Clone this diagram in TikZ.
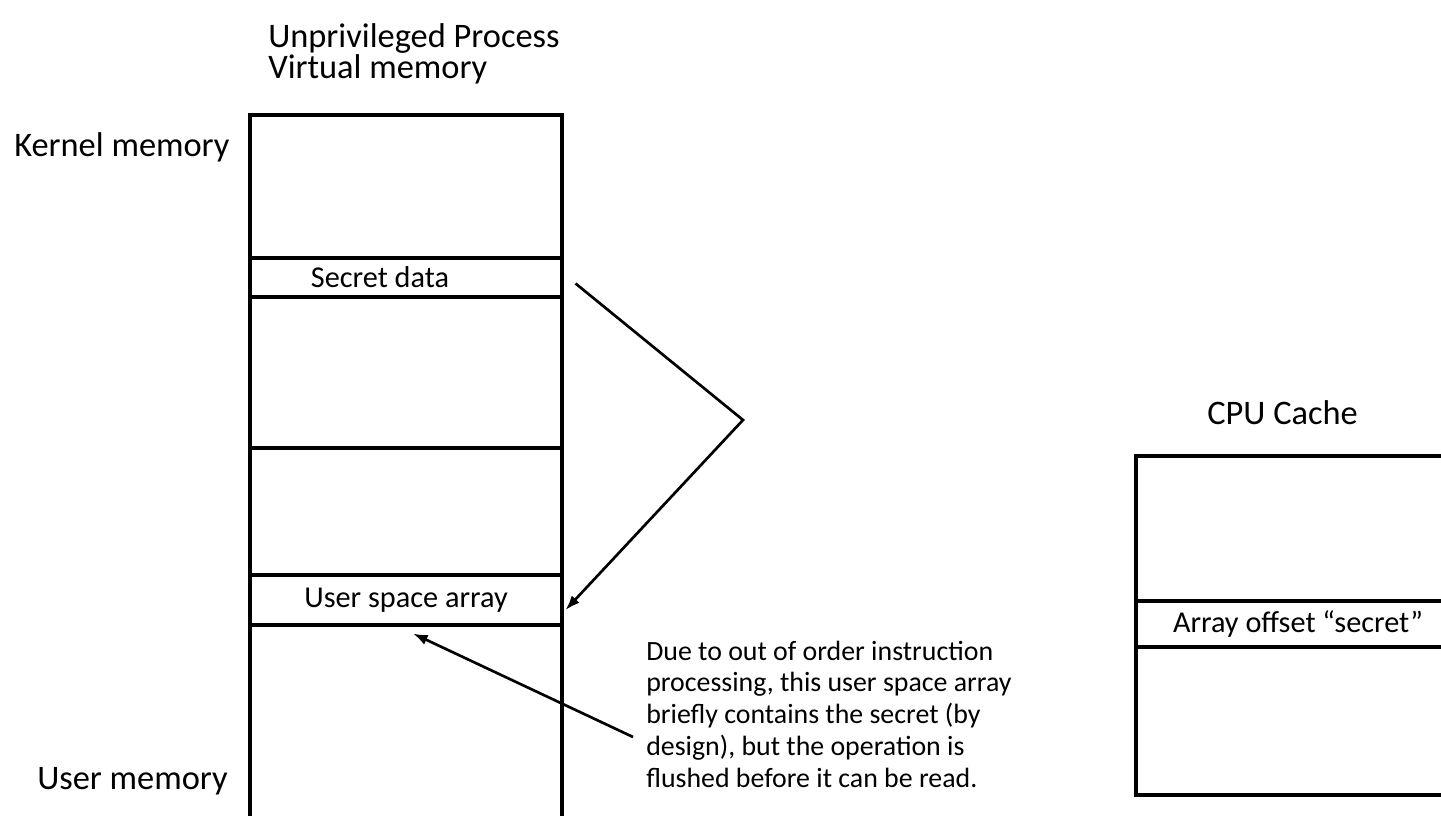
\documentclass[tikz,border=0pt]{standalone}
\usepackage{fontspec}
\setmainfont{Carlito}
\usetikzlibrary{arrows.meta,positioning}
\begin{document}
\begin{tikzpicture}[x=0.75pt,y=-0.75pt,
    region/.style={draw, line width=2.3pt, inner sep=0pt, minimum width=234pt, font=\fontsize{22.7}{26}\selectfont},
    cacheregion/.style={region, minimum width=243pt},
    sidetext/.style={inner sep=0pt, font=\fontsize{25.8}{21.6}\selectfont, align=left},
    notetext/.style={inner sep=0pt, font=\fontsize{20.9}{23.8}\selectfont, align=left},
    ptr/.style={line width=2pt, -{Latex[length=11pt,width=8pt]}}]
    \useasboundingbox (0,0) rectangle (1441,816);
    \node [region, minimum height=107.25pt] (kernel) at (406,186.5) {};
    \node [region, minimum height=29.25pt] (secret) at (406,277.5) {};
    \node [region, minimum height=113.25pt] (midA) at (406,372.5) {};
    \node [region, minimum height=95.25pt] (midB) at (406,511.5) {};
    \node [region, minimum height=37.5pt] (array) at (406,600) {User space array};
    \node [region, minimum height=153.75pt] (user) at (406,727.5) {};
    \node [inner sep=0pt, font=\fontsize{22.7}{26}\selectfont] (secretlbl) at (380,277.5) {Secret data};
    \node [sidetext, anchor=base west] (title) at (268,79) {Unprivileged Process\\Virtual memory};
    \node [sidetext, anchor=base west] (kernellbl) at (14,157) {Kernel memory};
    \node [sidetext, anchor=base west] (userlbl) at (37,789) {User memory};
    \node [cacheregion, minimum height=108.75pt] (cachetop) at (1298,528.5) {};
    \node [cacheregion, minimum height=34.5pt] (cacheline) at (1298,624) {Array offset “secret”};
    \node [cacheregion, minimum height=111pt] (cachebot) at (1298,721) {};
    \node [sidetext, anchor=base west] (cachelbl) at (1207,424) {CPU Cache};
    \node [notetext, anchor=base west] (note) at (646,787) {Due to out of order instruction\\processing, this user space array\\briefly contains the secret (by\\design), but the operation is\\flushed before it can be read.};
    \coordinate (bend) at (743,420);
    \coordinate (tail) at (633,737);
    \draw [ptr] ([shift={(12,6)}]secret.east) -- (bend) -- ([shift={(2,10)}]array.east);
    \draw [ptr] (tail) -- ([shift={(7,7)}]array.south);
\end{tikzpicture}
\end{document}
